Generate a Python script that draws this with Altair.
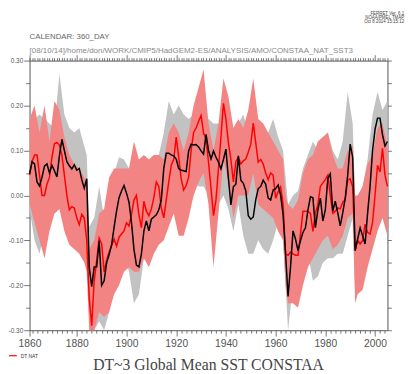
import altair as alt
import pandas as pd

# ---------------- data ----------------
years = list(range(1861, 2006))

dt_all = [
    0.048, 0.075, 0.070, 0.030, 0.021, 0.040, 0.065, 0.070, 0.050, 0.067,   # 1861-1870
    0.055, 0.041, 0.088, 0.125, 0.100, 0.075, 0.066, 0.059, 0.068, 0.056,   # 1871-1880
    0.060, 0.035, 0.016, 0.037, -0.159, -0.203, -0.159, -0.159, -0.101, -0.200,  # 1881-1890
    -0.190, -0.150, -0.132, -0.110, -0.071, -0.035, -0.005, 0.010, 0.022, 0.005,  # 1891-1900
    -0.015, -0.060, -0.120, -0.155, -0.159, -0.130, -0.079, -0.057, -0.079, -0.053,  # 1901-1910
    -0.048, -0.043, -0.032, -0.010, 0.060, 0.094, 0.094, 0.090, 0.088, 0.081,  # 1911-1920
    0.060, 0.056, 0.055, 0.053, 0.099, 0.114, 0.112, 0.113, 0.108, 0.099,   # 1921-1930
    0.092, 0.136, 0.100, 0.081, 0.099, 0.085, 0.074, 0.059, 0.080, 0.103,   # 1931-1940
    0.038, -0.021, 0.019, 0.025, 0.088, 0.034, 0.027, 0.010, -0.045, -0.053,  # 1941-1950
    -0.048, -0.010, 0.015, 0.020, 0.034, 0.025, -0.006, -0.010, 0.012, 0.015,  # 1951-1960
    0.023, 0.001, -0.043, -0.130, -0.225, -0.159, -0.079, -0.097, -0.123, -0.101,  # 1961-1970
    -0.082, -0.072, -0.032, -0.003, -0.005, -0.072, -0.032, -0.006, -0.057, -0.032,  # 1971-1980
    0.038, 0.048, -0.035, -0.013, -0.039, -0.068, -0.039, -0.006, 0.045, 0.114,  # 1981-1990
    0.085, -0.123, -0.097, -0.072, -0.090, -0.108, -0.040, 0.020, 0.100, 0.147,  # 1991-2000
    0.172, 0.172, 0.135, 0.110, 0.120,                                        # 2001-2005
]

dt_nat = [
    0.045, 0.075, 0.090, 0.090, 0.045, 0.000, 0.000, 0.025, 0.040, 0.085,   # 1861-1870
    0.115, 0.118, 0.112, 0.090, 0.045, 0.000, -0.032, -0.025, -0.028, -0.050,  # 1871-1880
    -0.065, -0.042, -0.050, -0.100, -0.228, -0.290, -0.190, -0.145, -0.095, -0.108,  # 1881-1890
    -0.170, -0.144, -0.126, -0.112, -0.097, -0.113, -0.093, -0.086, -0.079, -0.061,  # 1891-1900
    -0.068, -0.043, -0.010, 0.000, -0.043, -0.072, -0.013, -0.035, -0.045, -0.030,  # 1901-1910
    -0.005, 0.030, 0.020, -0.028, -0.050, -0.010, 0.030, 0.067, 0.080, 0.130,  # 1911-1920
    0.085, 0.037, 0.012, 0.022, 0.040, 0.100, 0.140, 0.150, 0.165, 0.178,   # 1921-1930
    0.139, 0.125, 0.074, 0.016, -0.045, -0.010, 0.060, 0.130, 0.205, 0.170,  # 1931-1940
    0.117, 0.080, 0.030, 0.075, 0.085, 0.070, 0.077, 0.081, 0.096, 0.114,   # 1941-1950
    0.161, 0.117, 0.074, 0.080, 0.070, 0.050, 0.035, 0.050, 0.045, -0.006,  # 1951-1960
    0.008, 0.019, -0.020, -0.130, -0.133, -0.126, -0.130, -0.133, -0.133, -0.086,  # 1961-1970
    -0.035, -0.035, -0.035, -0.040, -0.080, -0.040, -0.020, 0.020, 0.028, 0.035,  # 1971-1980
    0.045, 0.000, -0.040, -0.035, -0.028, -0.030, -0.015, -0.010, 0.034, 0.037,  # 1981-1990
    0.019, -0.123, -0.100, -0.108, -0.100, -0.064, -0.082, -0.086, -0.060, 0.001,  # 1991-2000
    0.067, 0.052, 0.105, 0.045, 0.020,                                        # 2001-2005
]

band_years = [1861, 1863, 1865, 1867, 1869, 1871, 1873, 1875, 1877, 1879, 1881, 1883, 1884,
              1885, 1887, 1889, 1891, 1893, 1895, 1897, 1899, 1901, 1903, 1905, 1907, 1909,
              1911, 1913, 1915, 1917, 1919, 1921, 1923, 1925, 1927, 1929, 1931, 1933, 1935,
              1937, 1939, 1941, 1943, 1945, 1947, 1949, 1951, 1953, 1955, 1957, 1959, 1961,
              1963, 1964, 1965, 1967, 1969, 1971, 1973, 1975, 1977, 1979, 1981, 1983, 1985,
              1987, 1989, 1991, 1992, 1993, 1995, 1997, 1999, 2001, 2003, 2005]

all_hi = [0.14, 0.17, 0.18, 0.17, 0.16, 0.15, 0.27, 0.18, 0.15, 0.14, 0.15, 0.11, 0.09,
          -0.07, -0.05, 0.02, -0.05, 0.00, 0.05, 0.085, 0.08, 0.06, 0.04, 0.03, 0.06, 0.07,
          0.08, 0.09, 0.14, 0.21, 0.18, 0.20, 0.18, 0.17, 0.18, 0.19, 0.18, 0.17, 0.16,
          0.16, 0.17, 0.14, 0.12, 0.16, 0.18, 0.14, 0.12, 0.12, 0.11, 0.14, 0.17, 0.13,
          0.10, 0.04, -0.02, 0.00, 0.01, 0.06, 0.09, 0.12, 0.10, 0.11, 0.14, 0.10, 0.08,
          0.12, 0.23, 0.16, 0.00, -0.01, 0.02, 0.08, 0.18, 0.23, 0.19, 0.21]

all_lo = [-0.03, -0.10, -0.13, -0.08, -0.05, -0.04, -0.03, -0.04, -0.04, -0.03, -0.04, -0.06, -0.08,
          -0.25, -0.30, -0.28, -0.30, -0.26, -0.19, -0.15, -0.13, -0.17, -0.24, -0.22, -0.14, -0.12,
          -0.10, -0.10, -0.07, -0.01, 0.01, -0.02, -0.02, 0.02, 0.03, 0.02, 0.02, 0.00, -0.01,
          -0.02, 0.00, -0.03, -0.08, -0.02, -0.09, -0.13, -0.13, -0.10, -0.12, -0.13, -0.10, -0.06,
          -0.10, -0.20, -0.30, -0.20, -0.22, -0.16, -0.13, -0.19, -0.18, -0.15, -0.14, -0.14, -0.13,
          -0.13, -0.09, -0.05, -0.22, -0.21, -0.18, -0.15, -0.03, 0.03, 0.05, 0.02]

nat_hi = [0.17, 0.20, 0.14, 0.20, 0.12, 0.21, 0.19, 0.13, 0.09, 0.07, 0.06, 0.04, 0.03,
          -0.12, -0.10, -0.04, -0.03, 0.04, 0.06, 0.06, 0.06, 0.06, 0.12, 0.08, 0.09, 0.08,
          0.09, 0.09, 0.08, 0.14, 0.16, 0.14, 0.10, 0.14, 0.20, 0.24, 0.28, 0.16, 0.10,
          0.16, 0.26, 0.22, 0.15, 0.17, 0.15, 0.19, 0.26, 0.17, 0.16, 0.14, 0.12, 0.10,
          0.08, 0.00, -0.02, -0.03, -0.01, 0.05, 0.08, 0.09, 0.12, 0.13, 0.14, 0.09, 0.06,
          0.06, 0.10, 0.11, 0.00, 0.00, 0.02, 0.07, 0.09, 0.15, 0.16, 0.11]

nat_lo = [-0.02, -0.06, -0.10, -0.14, -0.08, -0.04, -0.03, -0.08, -0.11, -0.12, -0.13, -0.15, -0.17,
          -0.30, -0.30, -0.26, -0.27, -0.26, -0.22, -0.20, -0.17, -0.16, -0.17, -0.17, -0.14, -0.16,
          -0.13, -0.11, -0.10, -0.07, -0.04, -0.09, -0.09, -0.05, 0.00, 0.03, 0.05, -0.02, -0.16,
          -0.04, 0.08, 0.03, -0.05, 0.00, 0.00, 0.00, 0.05, -0.02, -0.03, -0.04, -0.05, -0.08,
          -0.10, -0.20, -0.24, -0.24, -0.25, -0.20, -0.16, -0.14, -0.12, -0.10, -0.09, -0.12, -0.11,
          -0.09, -0.05, -0.04, -0.24, -0.22, -0.21, -0.16, -0.12, -0.08, -0.05, -0.09]

x_tick_values = list(range(1860, 2006))
y_tick_values = [round(-0.30 + 0.05 * i, 2) for i in range(13)]

legend_label = "DT NAT"
title_text = "DT~3 Global Mean SST CONSTAA"
calendar_text = "CALENDAR: 360_DAY"
path_text = "[08/10/14]/home/don/WORK/CMIP5/HadGEM2-ES/ANALYSIS/AMO/CONSTAA_NAT_SST3"
ferret_lines = ["FERRET Ver. 6.1", "NOAA/PMEL TMAP", "Oct  8 2014 15:15:12"]

# ---------------- tables ----------------
lines = pd.DataFrame({"year": years, "dt_all": dt_all, "dt_nat": dt_nat,
                      "series": [legend_label] * len(years)})
bands = pd.DataFrame({"year": band_years, "all_hi": all_hi, "all_lo": all_lo,
                      "nat_hi": nat_hi, "nat_lo": nat_lo})

# ---------------- scales / axes ----------------
W, H = 365, 275
xs = alt.Scale(domain=[1861, 2005], clamp=True, nice=False, zero=False)
ys = alt.Scale(domain=[-0.30, 0.30], nice=False, zero=False)

AXC = "#555555"
common = dict(domainColor=AXC, tickColor=AXC, domainWidth=1, tickWidth=0.8,
              grid=False, title=None)
x_major = "datum.value % 20 === 0"
y_major = "abs(round(datum.value * 100)) % 10 === 0"

x_bottom = alt.Axis(orient="bottom", values=x_tick_values, format="d",
                    labelExpr=f"{x_major} ? datum.label : ''",
                    tickSize={"condition": {"test": x_major, "value": 6}, "value": 3},
                    labelFont="Liberation Sans", labelFontSize=10.5, labelColor="#555555",
                    labelPadding=3, labelOverlap=False, labelFlush=False, **common)
x_top = alt.Axis(orient="top", values=x_tick_values, labels=False,
                 tickSize={"condition": {"test": x_major, "value": 6}, "value": 3}, **common)
y_left = alt.Axis(orient="left", values=y_tick_values,
                  labelExpr=f"{y_major} ? (datum.value < -0.001 ? '-' : '') + format(abs(datum.value), '.2f') : ''",
                  tickSize={"condition": {"test": y_major, "value": 6}, "value": 4},
                  labelFont="Liberation Sans", labelFontSize=6.5, labelColor="#555555",
                  labelPadding=1, labelOverlap=False, labelFlush=False, **common)
y_right = alt.Axis(orient="right", values=y_tick_values, labels=False, tickSize=4, **common)

gray_band = alt.Chart(bands).mark_area(color="#c2c2c2", opacity=1).encode(
    x=alt.X("year:Q", scale=xs, axis=x_bottom),
    y=alt.Y("all_lo:Q", scale=ys, axis=y_left),
    y2="all_hi:Q",
)
red_band = alt.Chart(bands).mark_area(color="#f28484", opacity=1).encode(
    x=alt.X("year:Q", scale=xs, axis=x_top),
    y=alt.Y("nat_lo:Q", scale=ys, axis=y_right),
    y2="nat_hi:Q",
)
red_line = alt.Chart(lines).mark_line(strokeWidth=1.5).encode(
    x=alt.X("year:Q", scale=xs, axis=None),
    y=alt.Y("dt_nat:Q", scale=ys, axis=None),
    color=alt.Color("series:N",
                    scale=alt.Scale(domain=[legend_label], range=["#ff0000"]),
                    legend=alt.Legend(orient="none", legendX=-22, legendY=296, title=None,
                                      symbolType="stroke", symbolSize=64, symbolStrokeWidth=1.2,
                                      labelFont="Liberation Sans", labelFontSize=5,
                                      labelColor="#333333", labelOffset=3, padding=0)),
)
black_line = alt.Chart(lines).mark_line(strokeWidth=1.5, color="#000000").encode(
    x=alt.X("year:Q", scale=xs, axis=None),
    y=alt.Y("dt_all:Q", scale=ys, axis=None),
)


def label(text, x, y, size, color, font="Liberation Sans", align="left"):
    return alt.Chart(pd.DataFrame({"t": [text]})).mark_text(
        font=font, fontSize=size, color=color, align=align, baseline="alphabetic"
    ).encode(text="t:N", x=alt.value(x), y=alt.value(y))


texts = [
    label(calendar_text, 0, -22, 8, "#666666"),
    label(path_text, 0, -8, 8.1, "#8a8a8a"),
    label(title_text, W / 2, 316, 16, "#444444", font="Liberation Serif", align="center"),
]
for i, t in enumerate(ferret_lines):
    texts.append(label(t, 382, -47 + 4.5 * i, 4.5, "#444444", align="right"))

chart = alt.layer(gray_band, red_band, red_line, black_line, *texts).resolve_axis(
    x="independent", y="independent"
).properties(
    width=W, height=H,
    autosize=alt.AutoSizeParams(type="none"),
    padding={"left": 22, "top": 50, "right": 24, "bottom": 41},
    background="white",
).configure_view(stroke=None)

chart.save("out.html", embed_options={"renderer": "svg", "actions": False})
